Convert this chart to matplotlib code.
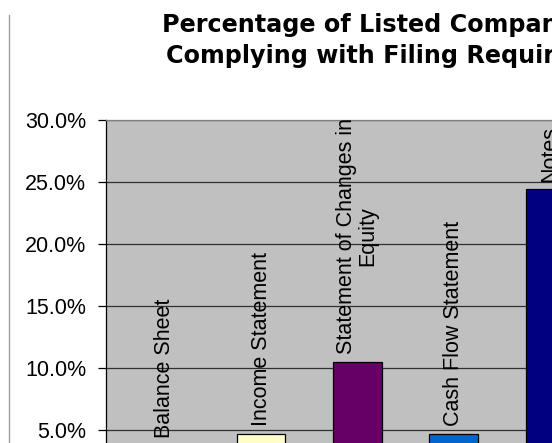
import matplotlib
matplotlib.use("Agg")
import matplotlib.pyplot as plt
from matplotlib.lines import Line2D

categories = ["Balance Sheet", "Income Statement", "Statement of Changes in\nEquity",
              "Cash Flow Statement", "Notes"]
values = [3.7, 4.7, 10.5, 4.7, 24.4]
colors = ["#9999FF", "#FFFFCC", "#660066", "#0066CC", "#000080"]
yticks = [0, 5, 10, 15, 20, 25, 30]
ytick_labels = ["0.0%", "5.0%", "10.0%", "15.0%", "20.0%", "25.0%", "30.0%"]
title_line1 = "Percentage of Listed Companies"
title_line2 = "Complying with Filing Requirements"

plt.rcParams['font.family'] = ['Liberation Sans', 'DejaVu Sans']

W, H = 552, 443
fig = plt.figure(figsize=(W / 100, H / 100), dpi=100)

left_px, top_px, right_px, zero_px = 105.7, 120, 683, 492
ax = fig.add_axes([left_px / W, (H - zero_px) / H, (right_px - left_px) / W, (zero_px - top_px) / H])
ax.set_facecolor("#C0C0C0")

x = list(range(len(categories)))
ax.bar(x, values, width=0.505, color=colors, edgecolor="black", linewidth=0.9, zorder=3)

for xi, v, lab in zip(x, values, categories):
    ax.annotate(lab, xy=(xi, v), xytext=(0, 5.5), textcoords="offset points",
                rotation=90, ha="center", va="bottom", fontsize=15.5,
                multialignment="center", zorder=4, linespacing=1.0)

unit = 96.2
xl = -(165 - left_px) / unit
ax.set_xlim(xl, xl + (right_px - left_px) / unit)
ax.set_ylim(0, 30)
ax.set_yticks(yticks)
ax.set_yticklabels(ytick_labels)
ax.set_xticks([])
ax.grid(axis="y", color="#303030", linewidth=0.9, zorder=1)
ax.tick_params(axis="y", direction="out", length=5.5, width=0.9, pad=8.5, labelsize=15.5, color="black")

for s in ["right", "bottom"]:
    ax.spines[s].set_visible(False)
ax.spines["left"].set_color("black")
ax.spines["left"].set_linewidth(0.9)
ax.spines["top"].set_color("#808080")
ax.spines["top"].set_linewidth(0.9)

fig.text(162 / W, 1 - 32.3 / H, title_line1, ha="left", va="baseline", fontsize=17.2,
         fontweight="bold", family=["DejaVu Sans"])
fig.text(166 / W, 1 - 63.3 / H, title_line2, ha="left", va="baseline", fontsize=17.2,
         fontweight="bold", family=["DejaVu Sans"])

fig.add_artist(Line2D([8.5 / W, 8.5 / W], [1 - 15 / H, 0], color="#A0A0A0", linewidth=1))

fig.savefig("out.png", dpi=100)
